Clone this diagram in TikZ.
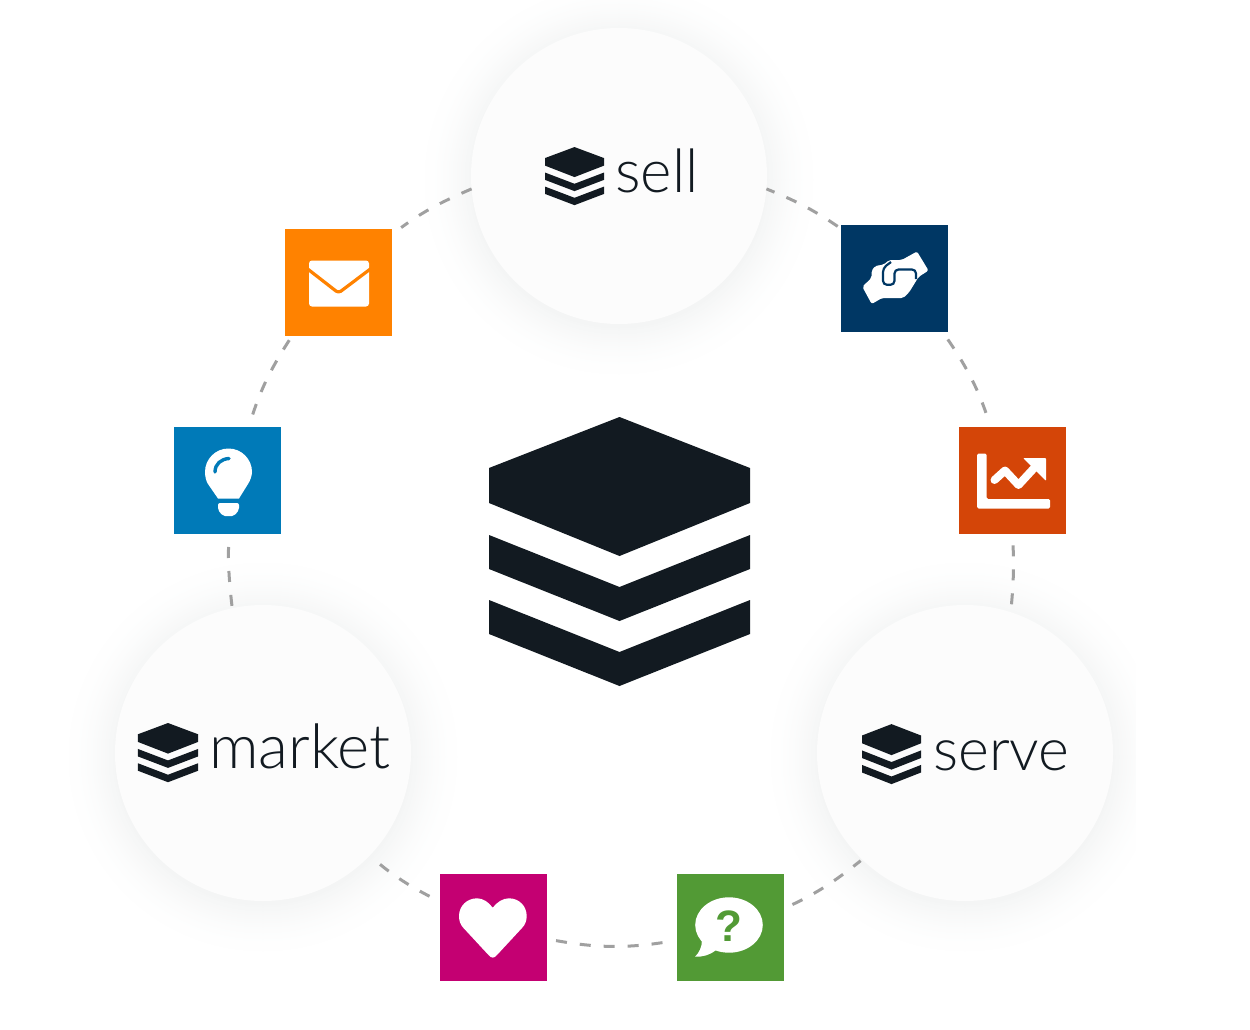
\documentclass[tikz,border=0pt]{standalone}
\usepackage{fontspec}
\setmainfont{Liberation Sans}
\newfontfamily\thinfont{Lato Light}
\newfontfamily\qfont{Liberation Sans Bold}
\definecolor{ink}{HTML}{121A21}
\definecolor{disc}{HTML}{FCFCFC}
\definecolor{dashgrey}{HTML}{A0A0A0}
\definecolor{mailc}{HTML}{FF8200}
\definecolor{handc}{HTML}{003764}
\definecolor{chartc}{HTML}{D44508}
\definecolor{bulbc}{HTML}{007AB8}
\definecolor{heartc}{HTML}{C40072}
\definecolor{questc}{HTML}{529A35}
\definecolor{shade}{HTML}{5A6A6A}
\tikzset{
  disk/.style={circle,minimum size=296pt,inner sep=0pt,outer sep=0pt,fill=disc},
  tile/.style={rectangle,minimum size=107pt,inner sep=0pt,outer sep=0pt},
  ringdash/.style={draw=dashgrey,line width=3pt,dash pattern=on 11pt off 13pt},
  word/.style={text=ink,inner sep=0pt,anchor=base west},
  stacklogo/.pic={
    \fill[ink] (0,-134)--(130.5,-83)--(130.5,-48)--(0,5)--(-130.5,-48)--(-130.5,-83)--cycle;
    \fill[ink] (-130.5,-16)--(0,36)--(130.5,-16)--(130.5,18)--(0,70)--(-130.5,18)--cycle;
    \fill[ink] (-130.5,49)--(0,101)--(130.5,49)--(130.5,83)--(0,135)--(-130.5,83)--cycle;
  },
}
\begin{document}
\begin{tikzpicture}[x=1pt,y=-1pt]
\useasboundingbox (0,0) rectangle (1250,1030);
\fill[white] (0,0) rectangle (1250,1030);
% soft shadows
\begin{scope}
\clip (0,0) rectangle (1135,1030);
\foreach \cx/\cy in {619/180,263/757,965/757}{
  \foreach \k in {0,...,29}{
    \pgfmathsetmacro{\r}{206-2*\k}
    \pgfmathsetmacro{\p}{6.5*(\k/29)^2}
    \fill[shade!\p!white] (\cx,\cy) circle[radius=\r];
  }
}
\end{scope}
% discs
\node[disk] (sell) at (619,176) {};
\node[disk] (market) at (263,753) {};
\node[disk] (serve) at (965,753) {};
% tiles
\node[tile,fill=mailc] (mail) at (338.5,282.5) {};
\node[tile,fill=handc] (hand) at (894.5,278.5) {};
\node[tile,fill=chartc] (chart) at (1012.5,480.5) {};
\node[tile,fill=bulbc] (bulb) at (227,480.5) {};
\node[tile,fill=heartc] (heart) at (493,927.5) {};
\node[tile,fill=questc] (quest) at (730.5,927) {};
% connectors
\draw[ringdash,shorten >=11.4pt] (sell.185.4) to[bend right=6.5] (mail.42.5);
\draw[ringdash,shorten <=5pt,shorten >=12.7pt] (mail.229.3) to[bend right=7.4] (bulb.68.8);
\draw[ringdash,shorten <=13pt] (bulb.272) to[bend right=4] (market.102);
\draw[ringdash,shorten <=13.6pt,shorten >=9.3pt] (market.316.4) to[bend right=6] (heart.154.1);
\draw[ringdash,shorten <=9.7pt,shorten >=11pt] (heart.348.7) to[bend right=9.6] (quest.194.4);
\draw[ringdash,shorten <=9.4pt,shorten >=2pt] (quest.19) to[bend right=6.6] (serve.226.6);
\draw[ringdash,shorten <=8pt,shorten >=11pt] (serve.72.3) to[bend right=4] (chart.270);
\draw[ringdash,shorten <=15pt,shorten >=8pt] (chart.112.6) to[bend right=7.7] (hand.312.1);
\draw[ringdash,shorten <=4pt] (hand.137.8) to[bend right=6] (sell.355);
% central and small logos
\pic at (619.5,551) {stacklogo};
\pic[xscale=.226,yscale=.216] at (574.5,176) {stacklogo};
\pic[xscale=.23,yscale=.22] at (168,752.5) {stacklogo};
\pic[xscale=.226,yscale=.223] at (891.5,754) {stacklogo};
% labels
\node[word,font=\thinfont\fontsize{60}{60}\selectfont] (selltext) at (615,192) {sell};
\node[word,font=\thinfont\fontsize{61.5}{62}\selectfont] (markettext) at (209,768) {market};
\node[word,font=\thinfont\fontsize{59}{60}\selectfont] (servetext) at (933,770) {serve};
% envelope
\fill[white,rounded corners=3pt] (309,260.5) rectangle (369,306.5);
\draw[mailc,line width=3.2pt,line join=round,rounded corners=3pt] (307,268.5) -- (338.5,293) -- (371,268.5);
% handshake
\fill[white,rounded corners=2pt] (862.3,286.7) -- (871.7,304) -- (882,298) -- (903.3,298) -- (909,292.5) -- (913,286) -- (918.5,277) -- (928.5,270.5) -- (917,251.5) -- (901.7,260) -- (889,260) -- (884,264.5) -- (875,266) -- (871.5,271) -- (871.5,278) -- cycle;
\draw[handc,line width=2.2pt,rounded corners=4pt] (891,262) -- (883,268) -- (883,284.8) -- (894.5,284.8) -- (894.5,269.5) -- (916,269.5) -- (916,279);
% chart
\fill[white,rounded corners=1.5pt] (977,453.5) -- (986.5,453.5) -- (986.5,499) -- (1050,499) -- (1050,508.5) -- (977,508.5) -- cycle;
\draw[white,line width=8pt,line join=round,line cap=round] (994.5,480) -- (1005,470.5) -- (1018.5,485) -- (1036,466);
\fill[white,rounded corners=1pt] (1023,458) -- (1046,458) -- (1046,481) -- cycle;
% bulb
\fill[white] (218,498.5) -- (208,484) .. controls (206,481) and (205,476) .. (205,472) arc[start angle=180,end angle=360,radius=23.5] .. controls (252,476) and (250,481) .. (248,484) -- (239,498.5) -- cycle;
\fill[white,rounded corners=2pt] (218,503) -- (239,503) -- (239,510) -- (234,516) -- (223,516) -- (218,510) -- cycle;
\draw[bulbc,line width=3.4pt,line cap=round] (215,472) .. controls (215,464) and (221,459) .. (229,458.5);
% heart
\fill[white] (492.7,907.7) .. controls (497,902) and (503,898.3) .. (509,898.3) .. controls (519,898.3) and (526.7,906) .. (526.7,916) .. controls (526.7,921) and (525,925) .. (522,928) -- (497,955) .. controls (494,958.5) and (491.5,958.5) .. (488.5,955) -- (463.5,928) .. controls (460.5,925) and (459,921) .. (459,916) .. controls (459,906) and (467,898.3) .. (477,898.3) .. controls (483,898.3) and (488.5,902) .. (492.7,907.7) -- cycle;
% speech bubble
\fill[white] (729,925) ellipse[x radius=33.8,y radius=27.7];
\fill[white] (702,940) .. controls (702,947) and (699,953) .. (695,956.7) .. controls (703,957) and (710,955) .. (716,950) -- cycle;
\node[text=questc,inner sep=0pt,font=\qfont\fontsize{44}{44}\selectfont] (qmark) at (729,926) {?};
\end{tikzpicture}
\end{document}
